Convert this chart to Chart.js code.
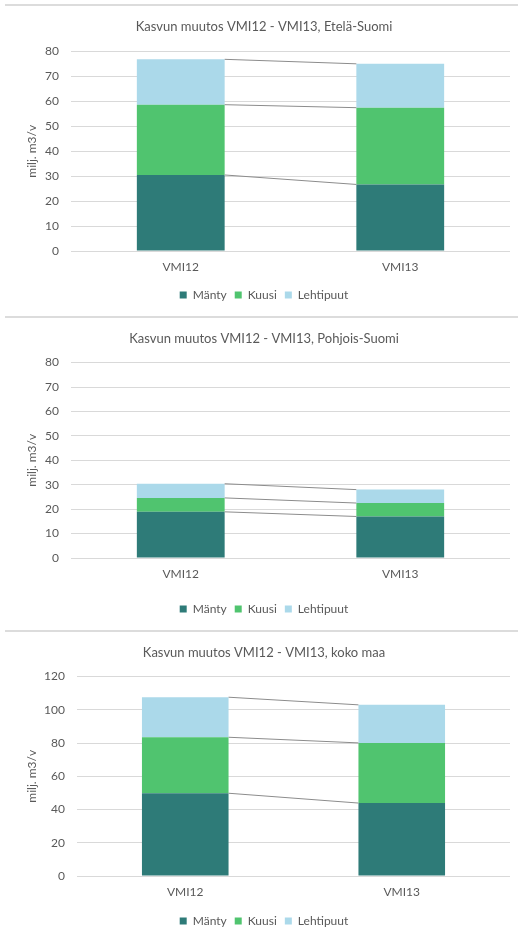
<!DOCTYPE html>
<html>
<head>
<meta charset="utf-8">
<script src="https://cdn.jsdelivr.net/npm/chart.js@4.4.1/dist/chart.umd.min.js"></script>
<style>
    html, body { margin: 0; padding: 0; background: #fff; }
    .panel { position: relative; width: 513px; height: 304px; margin-left: 5px; border-top: 2px solid #dcdcdc; }
    #p1 { margin-top: 4px; }
    #p2 { margin-top: 6px; height: 308px; }
    #p3 { margin-top: 4px; }
    canvas { display: block; }
</style>
</head>
<body>
<div class="panel" id="p1"><canvas id="chart1"></canvas></div>
<div class="panel" id="p2"><canvas id="chart2"></canvas></div>
<div class="panel" id="p3"><canvas id="chart3"></canvas></div>
<script>
const categories = ['VMI12', 'VMI13'];
const seriesNames = ['Mänty', 'Kuusi', 'Lehtipuut'];

// Etelä-Suomi
const southManty = [30.5, 26.7];
const southKuusi = [28.2, 30.8];
const southLehti = [18.2, 17.6];

// Pohjois-Suomi
const northManty = [18.9, 17.0];
const northKuusi = [5.7, 5.5];
const northLehti = [5.8, 5.5];

// koko maa
const totalManty = [49.8, 43.9];
const totalKuusi = [33.7, 36.2];
const totalLehti = [24.1, 22.9];

const colors = ['#2e7b78', '#50c46f', '#abd9ea'];
const textColor = '#595959';
const fontFamily = 'Lato, "Open Sans", sans-serif';

// excel style series lines between the stacked segments
const seriesLines = {
    id: 'seriesLines',
    afterDatasetsDraw(chart) {
        const ctx = chart.ctx;
        ctx.save();
        ctx.strokeStyle = '#8c8c8c';
        ctx.lineWidth = 1;
        chart.data.datasets.forEach((ds, i) => {
            const meta = chart.getDatasetMeta(i);
            const a = meta.data[0];
            const b = meta.data[1];
            if (!a || !b) return;
            ctx.beginPath();
            ctx.moveTo(a.x + a.width / 2, a.y);
            ctx.lineTo(b.x - b.width / 2, b.y);
            ctx.stroke();
        });
        ctx.restore();
    }
};

function makeChart(id, title, yMax, yStep, manty, kuusi, lehti, opts) {
    const ctx = document.getElementById(id).getContext('2d');
    const values = [manty, kuusi, lehti];
    return new Chart(ctx, {
        type: 'bar',
        data: {
            labels: categories,
            datasets: seriesNames.map((name, i) => ({
                label: name,
                data: values[i],
                backgroundColor: colors[i],
                borderWidth: 0,
                categoryPercentage: 1.0,
                barPercentage: 0.4,
            }))
        },
        options: {
            responsive: true,
            maintainAspectRatio: false,
            animation: false,
            layout: { padding: { left: 13, right: 8, top: 6, bottom: opts.bottom } },
            plugins: {
                title: {
                    display: true,
                    text: title,
                    color: textColor,
                    font: { family: fontFamily, size: 13, weight: 'normal' },
                    padding: { top: 7, bottom: opts.titleGap },
                },
                legend: {
                    display: true,
                    position: 'bottom',
                    labels: {
                        color: textColor,
                        font: { family: fontFamily, size: 12 },
                        boxWidth: 7,
                        boxHeight: 7,
                        padding: 8,
                    }
                },
                tooltip: { enabled: false },
            },
            scales: {
                x: {
                    stacked: true,
                    grid: { display: false },
                    border: { display: false },
                    ticks: {
                        color: textColor,
                        font: { family: fontFamily, size: 12 },
                        padding: 1,
                    },
                    afterFit(scale) { scale.height = opts.xHeight; }
                },
                y: {
                    stacked: true,
                    min: 0,
                    max: yMax,
                    ticks: {
                        stepSize: yStep,
                        color: textColor,
                        font: { family: fontFamily, size: 12 },
                        padding: 12,
                    },
                    grid: {
                        color: '#d9d9d9',
                        drawTicks: false,
                    },
                    border: { display: false },
                    title: {
                        display: true,
                        text: 'milj. m3/v',
                        color: textColor,
                        font: { family: fontFamily, size: 12 },
                        padding: { top: 7, bottom: 0 },
                    },
                    afterFit(scale) { scale.width = opts.axisWidth; }
                }
            }
        },
        plugins: [seriesLines]
    });
}

makeChart('chart1', 'Kasvun muutos VMI12 - VMI13, Etelä-Suomi', 80, 10,
    southManty, southKuusi, southLehti,
    { axisWidth: 53, bottom: -1, xHeight: 30, titleGap: 17 });
makeChart('chart2', 'Kasvun muutos VMI12 - VMI13, Pohjois-Suomi', 80, 10,
    northManty, northKuusi, northLehti,
    { axisWidth: 53, bottom: 1, xHeight: 37, titleGap: 16 });
makeChart('chart3', 'Kasvun muutos VMI12 - VMI13, koko maa', 120, 20,
    totalManty, totalKuusi, totalLehti,
    { axisWidth: 59, bottom: -1, xHeight: 31, titleGap: 16 });
</script>
</body>
</html>
